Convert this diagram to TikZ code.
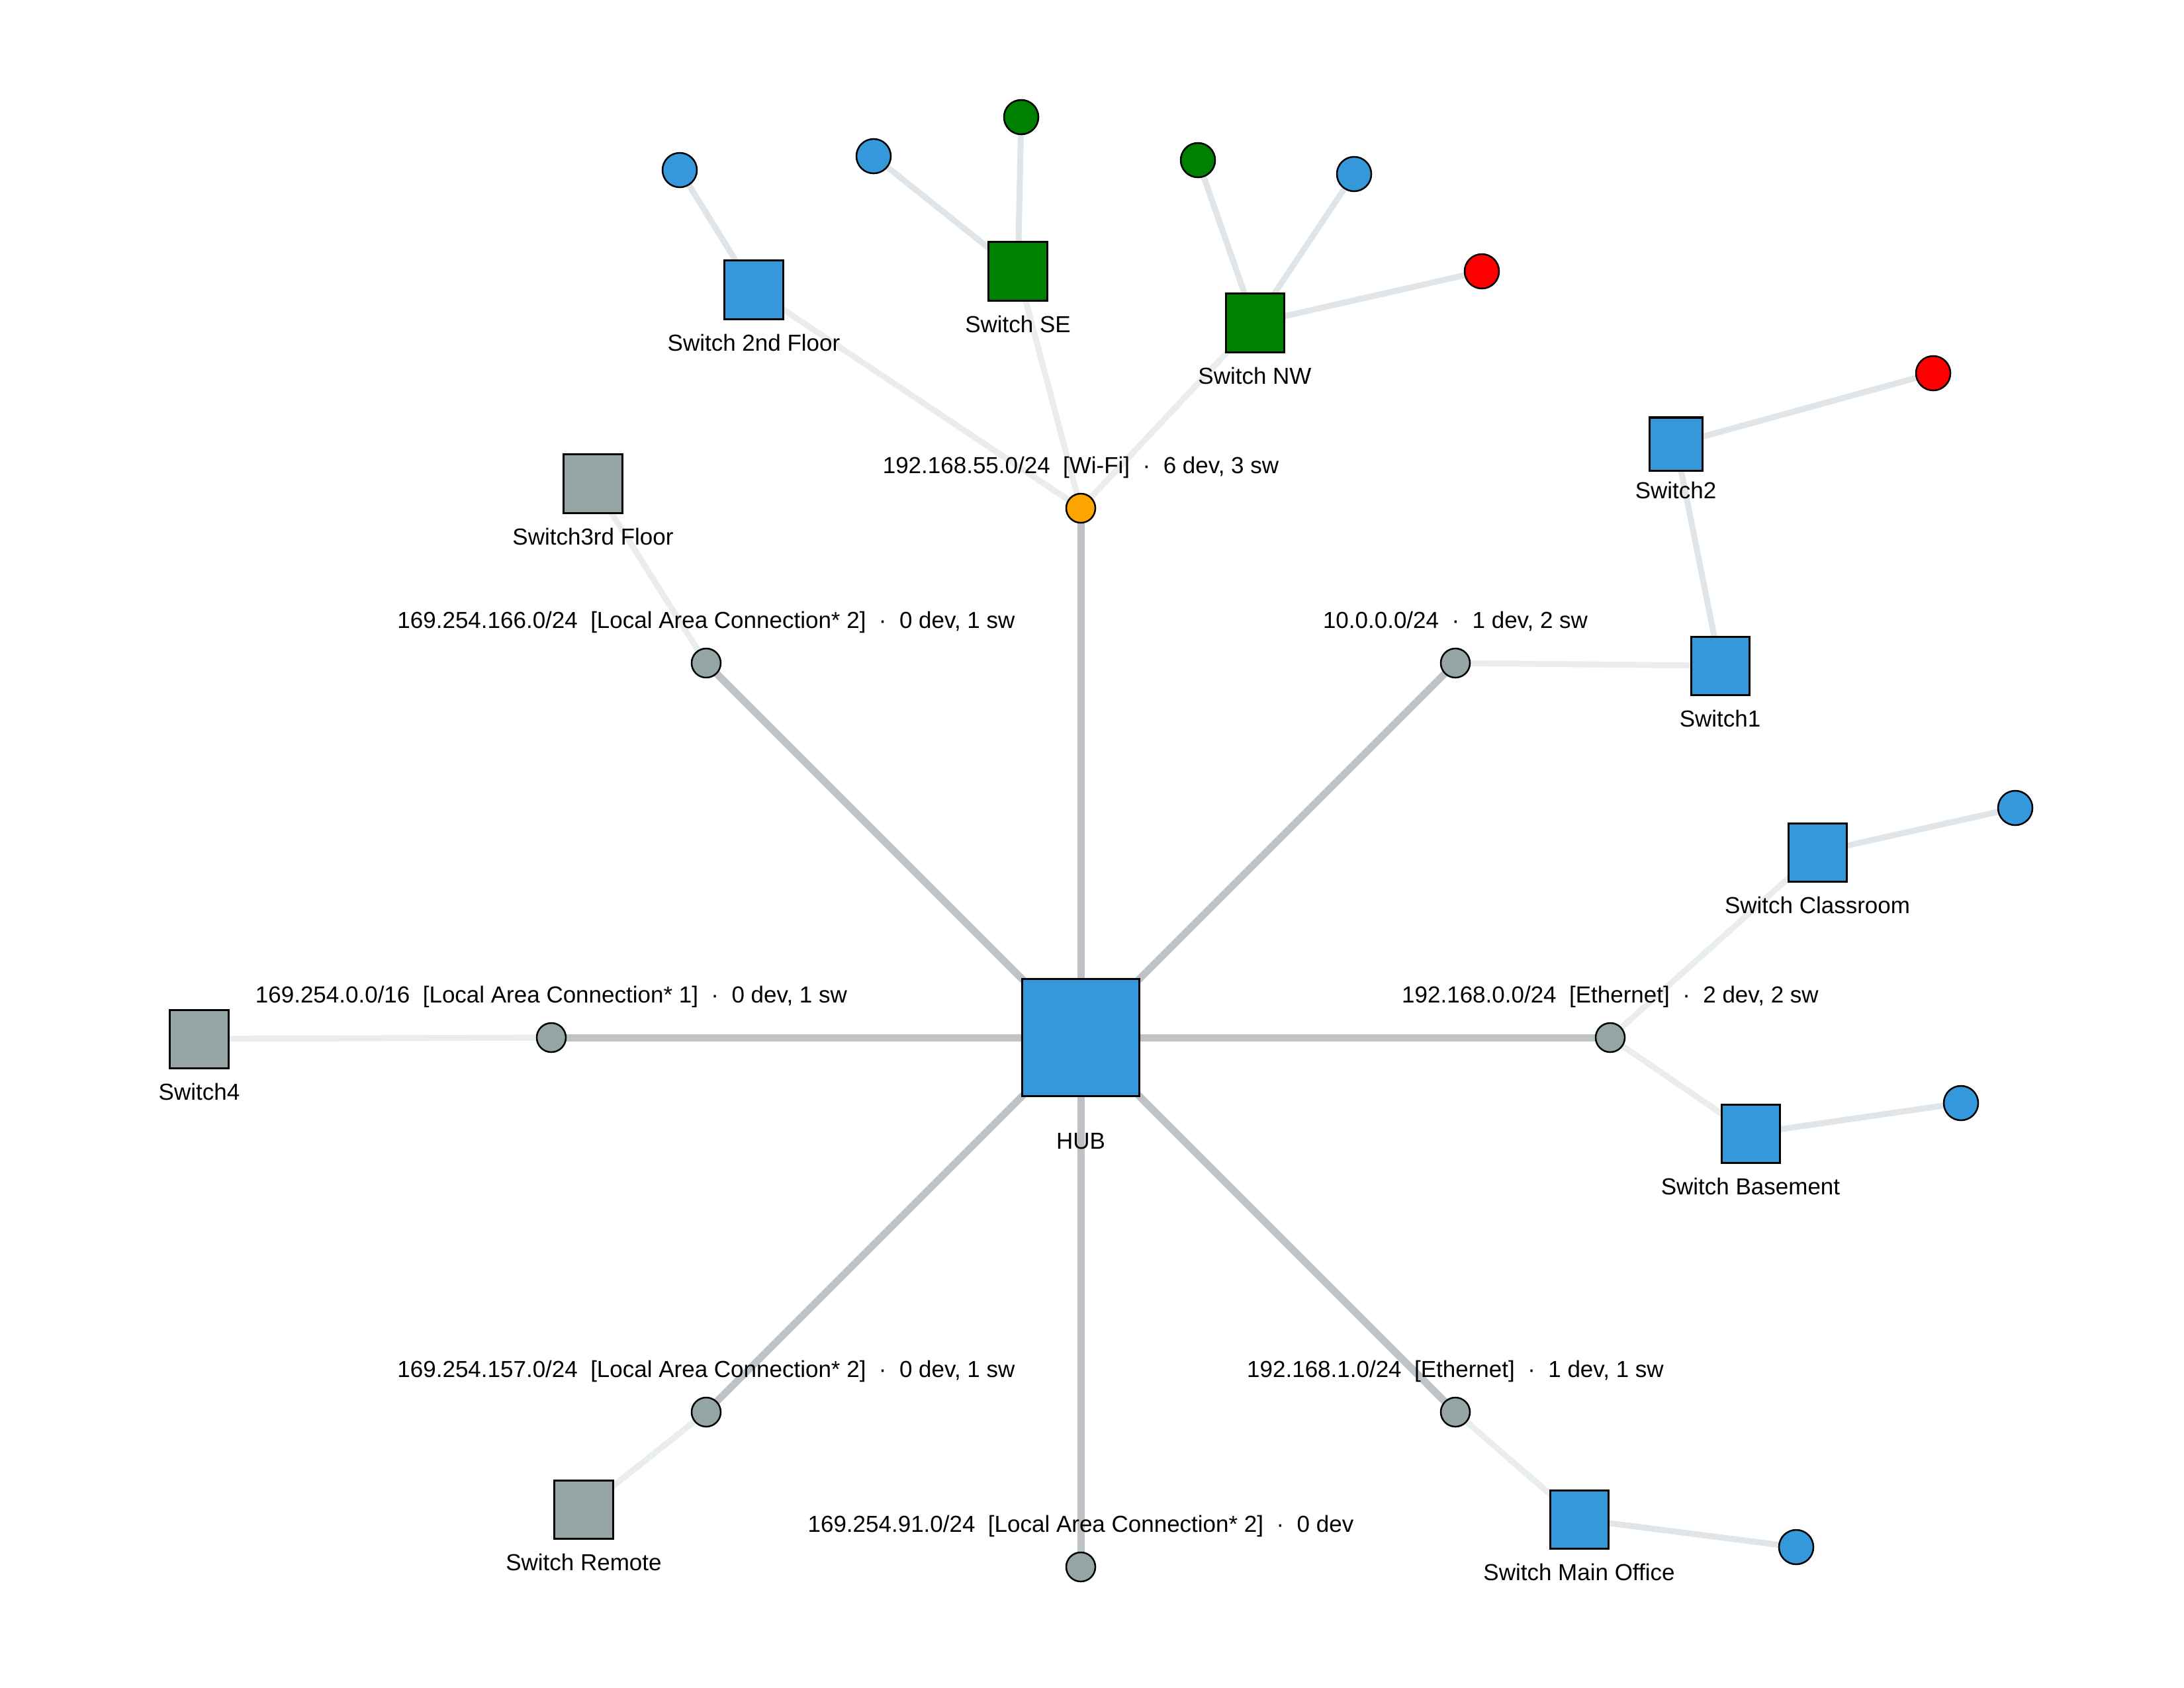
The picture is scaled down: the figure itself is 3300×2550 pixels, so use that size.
\documentclass[tikz,border=0pt]{standalone}
\usepackage{fontspec}
\setmainfont{Liberation Sans}
\usetikzlibrary{backgrounds}
\definecolor{cblue}{HTML}{3498DB}
\definecolor{cgreen}{HTML}{008000}
\definecolor{cred}{HTML}{FF0000}
\definecolor{corange}{HTML}{FFA500}
\definecolor{cgray}{HTML}{95A5A6}
\definecolor{ctrunk}{HTML}{BDC3C7}
\definecolor{cuplink}{HTML}{E9EDEE}
\definecolor{cdevlink}{HTML}{DFE5E8}
\tikzset{
  hubbox/.style={rectangle, draw=black, line width=0.03cm, fill=cblue, minimum size=1.77cm, inner sep=0pt},
  swbox/.style={rectangle, draw=black, line width=0.03cm, minimum size=0.88cm, inner sep=0pt},
  subdot/.style={circle, draw=black, line width=0.025cm, fill=cgray, minimum size=0.44cm, inner sep=0pt},
  devdot/.style={circle, draw=black, line width=0.025cm, minimum size=0.52cm, inner sep=0pt},
  lbl/.style={font=\fontsize{9.95}{12}\selectfont, inner sep=0pt, anchor=base, text=black},
  trunk/.style={line width=0.11cm, ctrunk},
  uplink/.style={line width=0.09cm, cuplink},
  devlink/.style={line width=0.09cm, cdevlink}
}
\begin{document}
\begin{tikzpicture}[x=0.01cm, y=-0.01cm]
\useasboundingbox (0,0) rectangle (3300,2550);
% hub
\node[hubbox] (hub) at (1633,1568) {};
\node[lbl] (thub) at (1633,1736) {HUB};
% subnets
\node[subdot, fill=corange] (wifi) at (1633,768) {};
\node[subdot] (s166) at (1067,1002) {};
\node[subdot] (s10) at (2199,1002) {};
\node[subdot] (s0) at (833,1568) {};
\node[subdot] (s1920) at (2433,1568) {};
\node[subdot] (s157) at (1067,2134) {};
\node[subdot] (s1921) at (2199,2134) {};
\node[subdot] (s91) at (1633,2368) {};
\node[lbl] (twifi) at (1633,715) {192.168.55.0/24~~[Wi-Fi]~~·~~6 dev, 3 sw};
\node[lbl] (t166) at (1067,949) {169.254.166.0/24~~[Local Area Connection* 2]~~·~~0 dev, 1 sw};
\node[lbl] (t10) at (2199,949) {10.0.0.0/24~~·~~1 dev, 2 sw};
\node[lbl] (t0) at (833,1515) {169.254.0.0/16~~[Local Area Connection* 1]~~·~~0 dev, 1 sw};
\node[lbl] (t1920) at (2433,1515) {192.168.0.0/24~~[Ethernet]~~·~~2 dev, 2 sw};
\node[lbl] (t157) at (1067,2081) {169.254.157.0/24~~[Local Area Connection* 2]~~·~~0 dev, 1 sw};
\node[lbl] (t1921) at (2199,2081) {192.168.1.0/24~~[Ethernet]~~·~~1 dev, 1 sw};
\node[lbl] (t91) at (1633,2315) {169.254.91.0/24~~[Local Area Connection* 2]~~·~~0 dev};
% switches
\node[swbox, fill=cblue] (sw2f) at (1139,438) {};
\node[swbox, fill=cgreen] (swSE) at (1538,410) {};
\node[swbox, fill=cgreen] (swNW) at (1896,488) {};
\node[swbox, fill=cgray] (sw3f) at (896,731) {};
\node[swbox, fill=cblue, minimum size=0.8cm] (sw2) at (2532,671) {};
\node[swbox, fill=cblue] (sw1) at (2599,1006) {};
\node[swbox, fill=cblue] (swCl) at (2746,1288) {};
\node[swbox, fill=cblue] (swBa) at (2645,1713) {};
\node[swbox, fill=cgray] (sw4) at (301,1570) {};
\node[swbox, fill=cgray] (swRe) at (882,2281) {};
\node[swbox, fill=cblue] (swMO) at (2386,2296) {};
\node[lbl] (tsw2f) at (1139,530) {Switch 2nd Floor};
\node[lbl] (tswSE) at (1538,502) {Switch SE};
\node[lbl] (tswNW) at (1896,580) {Switch NW};
\node[lbl] (tsw3f) at (896,823) {Switch3rd Floor};
\node[lbl] (tsw2) at (2532,753) {Switch2};
\node[lbl] (tsw1) at (2599,1098) {Switch1};
\node[lbl] (tswCl) at (2746,1380) {Switch Classroom};
\node[lbl] (tswBa) at (2645,1805) {Switch Basement};
\node[lbl] (tsw4) at (301,1662) {Switch4};
\node[lbl] (tswRe) at (882,2373) {Switch Remote};
\node[lbl] (tswMO) at (2386,2388) {Switch Main Office};
% devices
\node[devdot, fill=cblue] (d1) at (1027,257) {};
\node[devdot, fill=cblue] (d2) at (1320,236) {};
\node[devdot, fill=cgreen] (d3) at (1543,177) {};
\node[devdot, fill=cgreen] (d4) at (1810,242) {};
\node[devdot, fill=cblue] (d5) at (2046,263) {};
\node[devdot, fill=cred] (d6) at (2239,410) {};
\node[devdot, fill=cred] (d7) at (2921,564) {};
\node[devdot, fill=cblue] (d8) at (3045,1221) {};
\node[devdot, fill=cblue] (d9) at (2963,1667) {};
\node[devdot, fill=cblue] (d10) at (2714,2338) {};
% connectors
\begin{scope}[on background layer]
\fill[white] (0,0) rectangle (3300,2550);
\foreach \s in {wifi,s166,s10,s0,s1920,s157,s1921,s91}
  \draw[trunk] (hub.center) -- (\s.center);
\foreach \a/\b in {wifi/sw2f, wifi/swSE, wifi/swNW, s166/sw3f, s10/sw1, s0/sw4, s1920/swCl, s1920/swBa, s157/swRe, s1921/swMO}
  \draw[uplink] (\a.center) -- (\b.center);
\foreach \a/\b in {sw2f/d1, swSE/d2, swSE/d3, swNW/d4, swNW/d5, swNW/d6, sw1/sw2, sw2/d7, swCl/d8, swBa/d9, swMO/d10}
  \draw[devlink] (\a.center) -- (\b.center);
\end{scope}
\end{tikzpicture}
\end{document}
